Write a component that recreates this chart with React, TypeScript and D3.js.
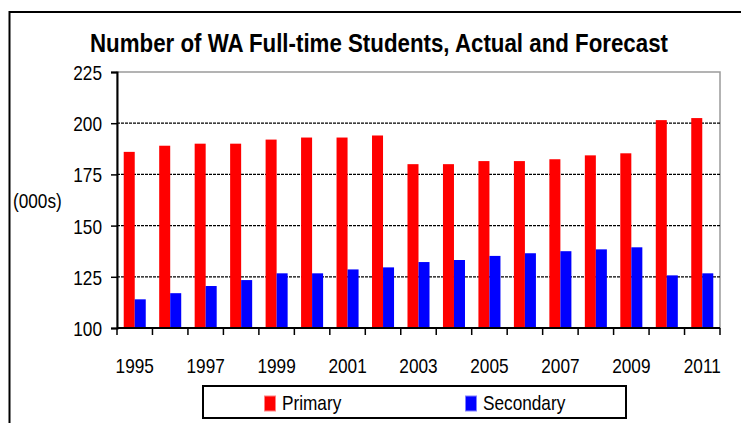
import { useEffect, useRef } from "react";
import * as d3 from "d3";

const years = [
  "1995", "1996", "1997", "1998", "1999", "2000", "2001", "2002", "2003",
  "2004", "2005", "2006", "2007", "2008", "2009", "2010", "2011",
];
const primary = [
  186, 189, 190, 190, 192, 193, 193, 194, 180, 180, 181.5, 181.5, 182.4,
  184.3, 185.3, 201.5, 202.5,
];
const secondary = [
  114, 117, 120.5, 123.4, 126.7, 126.7, 128.6, 129.6, 132.2, 133.2, 135.2,
  136.5, 137.5, 138.4, 139.4, 125.7, 126.7,
];
const seriesNames = ["Primary", "Secondary"];
const seriesColors = ["#ff0000", "#0000ff"];
const yTicks = [100, 125, 150, 175, 200, 225];

const FONT = "'Liberation Sans', Arial, sans-serif";
const FS = 21;
const SQUEEZE = 0.82;

export default function App() {
  const ref = useRef<SVGSVGElement | null>(null);

  useEffect(() => {
    const W = 741;
    const H = 423;
    const margin = { top: 72, left: 117, right: 21, bottom: 95 };
    const svg = d3.select(ref.current);
    svg.selectAll("*").remove();

    // chart frame (runs past the picture on right and bottom)
    svg
      .append("rect")
      .attr("x", 9.5)
      .attr("y", 12)
      .attr("width", 900)
      .attr("height", 600)
      .attr("fill", "#fff")
      .attr("stroke", "#000")
      .attr("stroke-width", 2);

    const x = d3
      .scaleBand()
      .domain(years)
      .range([margin.left, W - margin.right])
      .padding(0);
    const xs = d3
      .scaleBand()
      .domain(seriesNames)
      .range([0, x.bandwidth()])
      .paddingInner(0)
      .paddingOuter(0.61);
    const y = d3
      .scaleLinear()
      .domain([100, 225])
      .range([H - margin.bottom, margin.top]);

    const x0 = margin.left;
    const x1 = W - margin.right;
    const yb = y(100);
    const yt = y(225);

    // plot area border
    svg
      .append("rect")
      .attr("x", x0)
      .attr("y", yt)
      .attr("width", x1 - x0)
      .attr("height", yb - yt)
      .attr("fill", "none")
      .attr("stroke", "#9a9a9a")
      .attr("stroke-width", 1.5);

    // gridlines
    svg
      .append("g")
      .selectAll("line")
      .data(yTicks.filter((t) => t > 100 && t < 225))
      .enter()
      .append("line")
      .attr("x1", x0)
      .attr("x2", x1)
      .attr("y1", (d) => y(d))
      .attr("y2", (d) => y(d))
      .attr("stroke", "#000")
      .attr("stroke-width", 1.2)
      .attr("stroke-dasharray", "3,1");

    // bars
    const rows = years.map((yr, i) => ({
      year: yr,
      values: [primary[i], secondary[i]],
    }));
    const g = svg
      .selectAll("g.year")
      .data(rows)
      .enter()
      .append("g")
      .attr("class", "year")
      .attr("transform", (d) => `translate(${x(d.year)},0)`);
    g.selectAll("rect")
      .data((d) => d.values.map((v, k) => ({ v, k })))
      .enter()
      .append("rect")
      .attr("x", (d) => xs(seriesNames[d.k]) as number)
      .attr("y", (d) => y(d.v))
      .attr("width", xs.bandwidth())
      .attr("height", (d) => yb - y(d.v))
      .attr("fill", (d) => seriesColors[d.k]);

    // y axis
    const yAxis = svg
      .append("g")
      .attr("transform", `translate(${x0},0)`)
      .call(d3.axisLeft(y).tickValues(yTicks).tickSize(6).tickFormat(d3.format("d")));
    yAxis.select(".domain").attr("stroke", "#000").attr("stroke-width", 2);
    yAxis.selectAll(".tick line").attr("stroke", "#000").attr("stroke-width", 1.5);
    yAxis
      .selectAll(".tick text")
      .attr("x", null)
      .attr("dy", null)
      .attr("font-family", FONT)
      .attr("font-size", FS)
      .attr("fill", "#000")
      .attr("text-anchor", "end")
      .attr("transform", `translate(-15,7.5) scale(${SQUEEZE},1)`);

    // x axis
    const xAxis = svg.append("g").attr("transform", `translate(0,${yb})`);
    xAxis
      .append("line")
      .attr("x1", x0)
      .attr("x2", x1)
      .attr("stroke", "#000")
      .attr("stroke-width", 2);
    xAxis
      .selectAll("line.tk")
      .data([...years.map((yr) => x(yr) as number), x1])
      .enter()
      .append("line")
      .attr("class", "tk")
      .attr("x1", (d) => d)
      .attr("x2", (d) => d)
      .attr("y1", 0)
      .attr("y2", 7)
      .attr("stroke", "#000")
      .attr("stroke-width", 1.5);
    xAxis
      .selectAll("text")
      .data(years.filter((_, i) => i % 2 === 0))
      .enter()
      .append("text")
      .attr("transform", (d) => `translate(${(x(d) as number) + x.bandwidth() / 2},45) scale(${SQUEEZE},1)`)
      .attr("text-anchor", "middle")
      .attr("font-family", FONT)
      .attr("font-size", FS)
      .attr("fill", "#000")
      .text((d) => d);

    // y label
    svg
      .append("text")
      .attr("transform", `translate(13,208) scale(${SQUEEZE},1)`)
      .attr("font-family", FONT)
      .attr("font-size", FS)
      .text("(000s)");

    // title
    svg
      .append("text")
      .attr("x", 90)
      .attr("y", 52)
      .attr("font-family", FONT)
      .attr("font-size", 25)
      .attr("font-weight", "bold")
      .attr("textLength", 578)
      .attr("lengthAdjust", "spacingAndGlyphs")
      .text("Number of WA Full-time Students, Actual and Forecast");

    // legend
    const lg = svg.append("g");
    lg.append("rect")
      .attr("x", 203)
      .attr("y", 386)
      .attr("width", 423)
      .attr("height", 32)
      .attr("fill", "#fff")
      .attr("stroke", "#000")
      .attr("stroke-width", 2);
    const items = lg
      .selectAll("g.item")
      .data(seriesNames)
      .enter()
      .append("g")
      .attr("class", "item")
      .attr("transform", (_, i) => `translate(${[264, 465][i]},0)`);
    items
      .append("rect")
      .attr("x", 0.5)
      .attr("y", 396)
      .attr("width", 11)
      .attr("height", 15)
      .attr("fill", (_, i) => seriesColors[i])
      .attr("stroke", (_, i) => (i === 0 ? "#ff8080" : "#8080ff"))
      .attr("stroke-width", 1);
    items
      .append("text")
      .attr("transform", `translate(18,410) scale(${SQUEEZE},1)`)
      .attr("font-family", FONT)
      .attr("font-size", FS)
      .text((d) => d);
  }, []);

  return (
    <div style={{ position: "fixed", left: 0, top: 0, width: 741, height: 423, background: "#fff" }}>
      <svg ref={ref} width={741} height={423} style={{ display: "block" }} />
    </div>
  );
}
